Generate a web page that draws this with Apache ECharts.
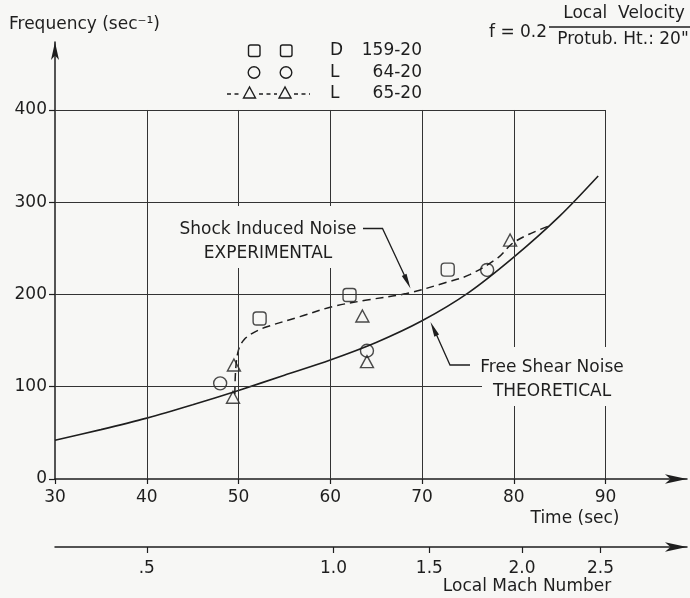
<!DOCTYPE html>
<html><head><meta charset="utf-8">
<script src="https://cdn.jsdelivr.net/npm/echarts@6/dist/echarts.min.js"></script>
<style>html,body{margin:0;padding:0;background:#f7f7f5}#c{width:690px;height:598px}</style>
</head><body><div id="c"></div>
<script>
// ---- data ----
const timeTicks = [30, 40, 50, 60, 70, 80, 90];
const freqTicks = [0, 100, 200, 300, 400];
const machLabels = ['.5', '1.0', '1.5', '2.0', '2.5'];
const machAtTime = [40, 60.35, 70.8, 80.9, 89.45];
const squaresD159 = [[52.3, 174], [62.1, 199.5], [72.8, 227]];
const circlesL64 = [[48.0, 103.7], [64.0, 139], [77.1, 226.6]];
const trianglesL65 = [[49.5, 123.6], [49.4, 88.6], [63.5, 176.7], [64.0, 127.2], [79.6, 259]];
const theoretical = [[30, 42], [35, 53.5], [40, 66], [45, 80.5], [50, 96], [55, 112.5], [60, 129], [65, 148], [70, 171.5], [75, 201.5], [80, 240.5], [85, 285], [89.2, 328.5]];
const experimental = [[49.6, 92], [49.7, 120], [50.0, 140], [50.6, 151], [51.7, 159], [53.1, 165], [56.7, 176], [60.3, 187], [64, 194], [68.3, 201], [72.6, 213], [75.2, 221.5], [78.3, 240], [79.8, 255], [81.6, 265], [84, 275]];

// ---- style ----
const INK = '#1e1e1e';
const BG = '#f7f7f5';
const FONT = '"DejaVu Sans"';
const F17 = '17px ' + FONT;

const chart = echarts.init(document.getElementById('c'), null, {renderer: 'canvas'});

function gridLines() {
  const d = [];
  timeTicks.slice(1).forEach(t => d.push([{coord: [t, 0]}, {coord: [t, 400]}]));
  freqTicks.slice(1).forEach(f => d.push([{coord: [30, f]}, {coord: [90, f]}]));
  return d;
}

function txt(text, x, y, align, extra) {
  return Object.assign({type: 'text', x: x, y: y, z: 60,
    style: {text: text, font: F17, fill: INK, align: align || 'left', verticalAlign: 'middle'}}, extra || {});
}
function arrowHead(tip, from, len, hw) {
  const dx = tip[0] - from[0], dy = tip[1] - from[1];
  const L = Math.hypot(dx, dy), ux = dx / L, uy = dy / L;
  const bx = tip[0] - ux * len, by = tip[1] - uy * len;
  return {type: 'polygon', z: 61, shape: {points: [tip, [bx - uy * hw, by + ux * hw], [bx + uy * hw, by - ux * hw]]}, style: {fill: INK}};
}
function poly(points, dash) {
  return {type: 'polyline', z: 61, shape: {points: points}, style: {stroke: INK, lineWidth: 1.3, fill: null, lineDash: dash || null}};
}

const graphics = [
  txt('Frequency (sec⁻¹)', 9, 25),
  // legend
  {type: 'rect', z: 60, shape: {x: 248.5, y: 45, width: 11.5, height: 11.5, r: 2}, style: {fill: 'none', stroke: INK, lineWidth: 1.4}},
  {type: 'rect', z: 60, shape: {x: 280.5, y: 45, width: 11.5, height: 11.5, r: 2}, style: {fill: 'none', stroke: INK, lineWidth: 1.4}},
  {type: 'circle', z: 60, shape: {cx: 254, cy: 72.5, r: 5.8}, style: {fill: 'none', stroke: INK, lineWidth: 1.4}},
  {type: 'circle', z: 60, shape: {cx: 286, cy: 72.5, r: 5.8}, style: {fill: 'none', stroke: INK, lineWidth: 1.4}},
  {type: 'polygon', z: 60, shape: {points: [[249.5, 87], [243.5, 98], [255.5, 98]]}, style: {fill: 'none', stroke: INK, lineWidth: 1.4}},
  {type: 'polygon', z: 60, shape: {points: [[285, 87], [279, 98], [291, 98]]}, style: {fill: 'none', stroke: INK, lineWidth: 1.4}},
  poly([[227, 94], [242, 94]], [4, 3.5]),
  poly([[259, 94], [277, 94]], [4, 3.5]),
  poly([[294, 94], [310, 94]], [4, 3.5]),
  txt('D', 330, 51), txt('159-20', 422, 51, 'right'),
  txt('L', 330, 73), txt('64-20', 422, 73, 'right'),
  txt('L', 330, 94), txt('65-20', 422, 94, 'right'),
  // formula
  txt('f = 0.2', 489, 33),
  txt('Local  Velocity', 624, 14, 'center'),
  {type: 'line', z: 60, shape: {x1: 549, y1: 27, x2: 690, y2: 27}, style: {stroke: INK, lineWidth: 1.3}},
  txt('Protub. Ht.: 20"', 623, 40, 'center'),
  // label boxes covering grid lines
  {type: 'rect', z: 55, shape: {x: 176, y: 206, width: 184, height: 62}, style: {fill: BG}},
  {type: 'rect', z: 55, shape: {x: 482, y: 347, width: 152, height: 59}, style: {fill: BG}},
  txt('Shock Induced Noise', 268, 230, 'center'),
  txt('EXPERIMENTAL', 268, 254, 'center'),
  txt('Free Shear Noise', 552, 368, 'center'),
  txt('THEORETICAL', 552, 392, 'center'),
  poly([[363, 228.5], [382.5, 228.5], [408, 283]]),
  arrowHead([410.5, 288.5], [382.5, 228.5], 15, 2.6),
  poly([[470, 365], [450, 365], [433, 327]]),
  arrowHead([430.5, 322], [450, 365], 15, 2.6),
  // axis names
  txt('Time (sec)', 575, 519, 'center'),
  txt('Local Mach Number', 527, 587, 'center')
];

const option = {
  backgroundColor: BG,
  animation: false,
  textStyle: {fontFamily: FONT},
  grid: [
    {left: 55, right: 3, top: 42, bottom: 119},
    {left: 55, right: 3, top: 540, bottom: 51}
  ],
  xAxis: [
    {type: 'value', gridIndex: 0, min: 30, max: 98.88,
      axisLine: {show: true, onZero: false, symbol: ['none', 'arrow'], symbolSize: [7, 22], lineStyle: {color: INK, width: 1.5}},
      axisTick: {show: true, customValues: timeTicks, length: 5, lineStyle: {color: INK, width: 1.2}},
      axisLabel: {customValues: timeTicks, color: INK, fontSize: 17, fontFamily: FONT, margin: 10},
      splitLine: {show: false}},
    {type: 'value', gridIndex: 1, min: 30, max: 98.88, position: 'bottom',
      axisLine: {show: true, onZero: false, symbol: ['none', 'arrow'], symbolSize: [7, 22], lineStyle: {color: INK, width: 1.5}},
      axisTick: {show: true, customValues: machAtTime, length: 6, lineStyle: {color: INK, width: 1.2}},
      axisLabel: {customValues: machAtTime, color: INK, fontSize: 17, fontFamily: FONT, margin: 13,
        formatter: function (v) {
          let best = 0;
          machAtTime.forEach((t, i) => { if (Math.abs(t - v) < Math.abs(machAtTime[best] - v)) best = i; });
          return machLabels[best];
        }},
      splitLine: {show: false}}
  ],
  yAxis: [
    {type: 'value', gridIndex: 0, min: 0, max: 473.7,
      axisLine: {show: true, onZero: false, symbol: ['none', 'arrow'], symbolSize: [6, 18], lineStyle: {color: INK, width: 1.5}},
      axisTick: {show: true, customValues: freqTicks, length: 6, lineStyle: {color: INK, width: 1.2}},
      axisLabel: {customValues: freqTicks, color: INK, fontSize: 17, fontFamily: FONT, margin: 8},
      splitLine: {show: false}},
    {type: 'value', gridIndex: 1, show: false, min: 0, max: 1}
  ],
  series: [
    {type: 'line', name: 'grid', xAxisIndex: 0, yAxisIndex: 0, data: [], silent: true,
      markLine: {silent: true, symbol: ['none', 'none'], label: {show: false},
        lineStyle: {type: 'solid', color: '#333', width: 1}, data: gridLines()}},
    {type: 'line', name: 'Free Shear Noise (theoretical)', data: theoretical, smooth: 0.3, showSymbol: false,
      lineStyle: {color: INK, width: 1.6}, z: 3},
    {type: 'line', name: 'Shock Induced Noise (experimental)', data: experimental, smooth: 0.35, showSymbol: false,
      lineStyle: {color: INK, width: 1.5, type: [8, 5]}, z: 3},
    {type: 'scatter', name: 'D 159-20', data: squaresD159, symbol: 'roundRect', symbolSize: 13,
      itemStyle: {color: 'rgba(0,0,0,0)', borderColor: INK, borderWidth: 1.4}, z: 4},
    {type: 'scatter', name: 'L 64-20', data: circlesL64, symbol: 'circle', symbolSize: 13,
      itemStyle: {color: 'rgba(0,0,0,0)', borderColor: INK, borderWidth: 1.4}, z: 4},
    {type: 'scatter', name: 'L 65-20', data: trianglesL65, symbol: 'triangle', symbolSize: [13, 12],
      itemStyle: {color: 'rgba(0,0,0,0)', borderColor: INK, borderWidth: 1.4}, z: 4}
  ],
  graphic: graphics
};
chart.setOption(option);
</script>
</body></html>
